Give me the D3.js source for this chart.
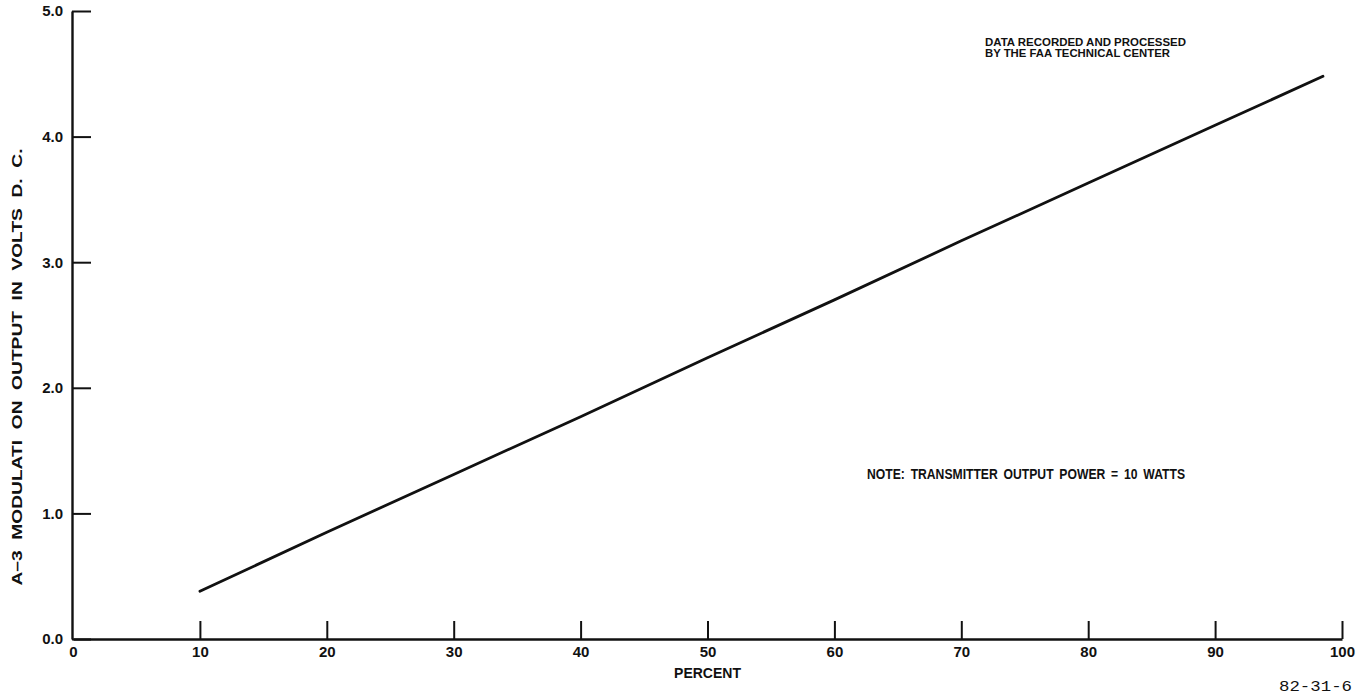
<!DOCTYPE html>
<html>
<head>
<meta charset="utf-8">
<script src="https://cdn.jsdelivr.net/npm/d3@7"></script>
<style>
  body { margin: 0; background: #fff; }
  text { font-family: "Liberation Sans", Arial, sans-serif; font-weight: bold; fill: #111; }
</style>
</head>
<body>
<div id="chart"></div>
<script>
// values
const percent = [10, 20, 30, 40, 50, 60, 70, 80, 90, 98.5];
const volts = [0.38, 0.85, 1.31, 1.77, 2.24, 2.70, 3.17, 3.63, 4.09, 4.48];
const xTicks = [0, 10, 20, 30, 40, 50, 60, 70, 80, 90, 100];
const yTicks = [0, 1, 2, 3, 4, 5];

const width = 1372;
const height = 696;

const svg = d3.select('#chart')
  .append('svg')
  .attr('width', width)
  .attr('height', height);

const x = d3.scaleLinear().domain([0, 100]).range([73, 1342]);
const y = d3.scaleLinear().domain([0, 5]).range([639, 11]);

// x axis, ticks pointing up
const xAxis = svg.append('g')
  .attr('transform', `translate(0,${y(0)})`)
  .call(d3.axisBottom(x).tickValues(xTicks).tickSizeInner(-18).tickSizeOuter(0).tickPadding(7).tickFormat(d3.format('d')));

// y axis, ticks pointing right
const yAxis = svg.append('g')
  .attr('transform', `translate(${x(0) - 1},0)`)
  .call(d3.axisLeft(y).tickValues(yTicks).tickSizeInner(-19).tickSizeOuter(0).tickPadding(9).tickFormat(d3.format('.1f')));

[xAxis, yAxis].forEach((g) => {
  g.selectAll('path.domain').attr('stroke', '#111').attr('stroke-width', 2.4);
  g.selectAll('line').attr('stroke', '#111').attr('stroke-width', 2);
  g.selectAll('text')
    .attr('fill', '#111')
    .style('font-family', '"Liberation Sans", Arial, sans-serif')
    .style('font-weight', 'bold')
    .style('font-size', '15px');
});
xAxis.selectAll('.tick').filter((d) => d === 0).select('line').remove();

// the measured line
const line = d3.line()
  .x((d, i) => x(percent[i]))
  .y((d) => y(d));

svg.append('path')
  .datum(volts)
  .attr('d', line)
  .attr('fill', 'none')
  .attr('stroke', '#111')
  .attr('stroke-width', 2.8)
  .attr('stroke-linecap', 'round');

// axis titles
svg.append('text')
  .attr('x', x(50))
  .attr('y', 678)
  .attr('text-anchor', 'middle')
  .style('font-size', '14px')
  .text('PERCENT');

svg.append('text')
  .attr('transform', 'translate(22,367) rotate(-90)')
  .attr('text-anchor', 'middle')
  .attr('textLength', 437)
  .attr('lengthAdjust', 'spacingAndGlyphs')
  .style('font-size', '14.5px')
  .style('word-spacing', '4px')
  .text('A–3 MODULATI ON OUTPUT IN VOLTS D. C.');

// annotations
svg.append('text')
  .attr('x', 985)
  .attr('y', 46)
  .attr('textLength', 201)
  .attr('lengthAdjust', 'spacingAndGlyphs')
  .style('font-size', '10px')
  .text('DATA RECORDED AND PROCESSED');

svg.append('text')
  .attr('x', 985)
  .attr('y', 57)
  .attr('textLength', 185)
  .attr('lengthAdjust', 'spacingAndGlyphs')
  .style('font-size', '10px')
  .text('BY THE FAA TECHNICAL CENTER');

svg.append('text')
  .attr('x', 867)
  .attr('y', 479)
  .attr('textLength', 318)
  .attr('lengthAdjust', 'spacingAndGlyphs')
  .style('font-size', '15px')
  .style('word-spacing', '3px')
  .text('NOTE: TRANSMITTER OUTPUT POWER = 10 WATTS');

svg.append('text')
  .attr('x', 1279)
  .attr('y', 691)
  .attr('textLength', 73)
  .attr('lengthAdjust', 'spacingAndGlyphs')
  .style('font-family', '"Liberation Mono", "DejaVu Sans Mono", monospace')
  .style('font-weight', 'normal')
  .style('font-size', '15px')
  .text('82-31-6');
</script>
</body>
</html>
